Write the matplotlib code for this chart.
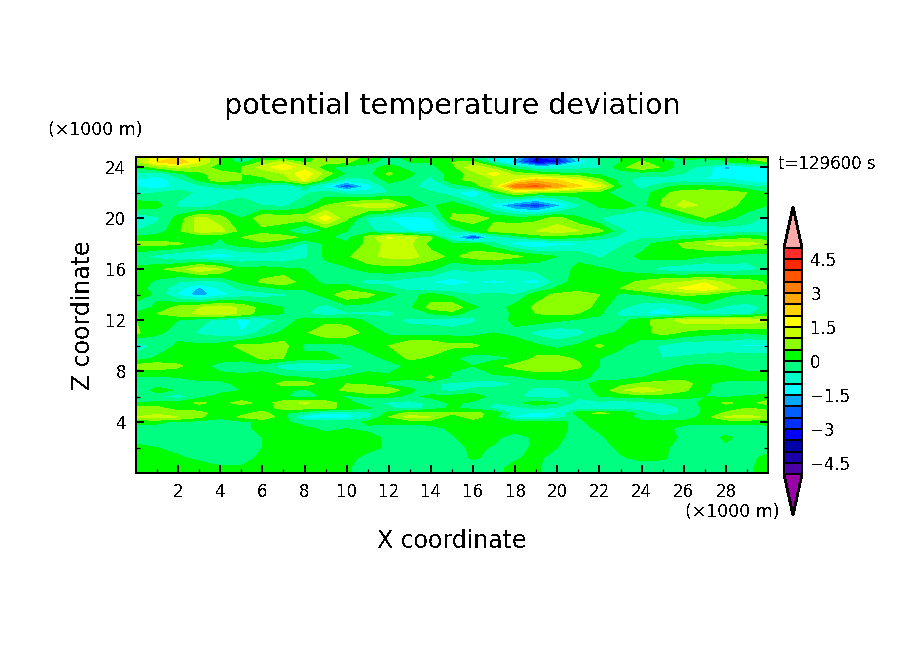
import numpy as np
import matplotlib
matplotlib.use('Agg')
import matplotlib.pyplot as plt

plt.rcParams['font.family'] = 'DejaVu Sans'
plt.rcParams['text.antialiased'] = False
plt.rcParams['lines.antialiased'] = False
plt.rcParams['patch.antialiased'] = False

# x in km, one column per km
x_km = list(range(0, 31))
# z in km, rows of theta_dev go top of the picture to bottom
z_km = [24.8, 24.4, 24, 23.5, 23, 22.5, 22, 21, 20, 19, 18.5, 18, 17, 16, 15, 14.5, 14, 13, 12.5, 12, 11, 10, 9,
        8.4, 7.5, 7, 6.5, 6, 5.5, 5.1, 4.7, 4.4, 4, 3.5, 2.8, 2, 1.2, 0.4, 0]

theta_dev = [
    [.9, 1.7, 2.0, 1.6, .3, -.4, .1, -.2, .3, .7, .9, .3, -.1, .1, .2, .5, -.3, -1.0, -1.2, -3.0, -2.6, -1.0, -.4, 0, .2, -.1, .1, .1, .2, .6, .8],
    [.8, 2.0, 2.4, 1.5, .5, -.2, .6, 1.2, .4, .7, .6, .1, -.2, 0, 0, .5, .6, -.6, -1.8, -3.6, -3.2, -1.4, -.5, 0, .6, .1, -.1, -.2, -.1, .3, .5],
    [.1, .7, 1.2, .8, .2, .5, 1.2, 1.9, 1.2, .1, -.2, -.2, .2, -.2, -.1, .3, 1.5, .6, -.3, -1.0, -.9, -.7, -.6, .3, 1.0, .4, -.4, -.6, -1.6, -1.3, -1.0],
    [-.7, -.8, -.1, .4, .7, .5, .6, 1.0, 1.9, .8, -.1, -.2, .6, .1, -.4, .2, .7, 1.8, .7, .4, .1, 0, -.1, -.3, -.3, -.2, -.5, -.8, -1.4, -1.0, -1.6],
    [-1.0, -1.3, -.7, .1, .9, .5, .4, .7, 1.6, .2, -.8, -.6, .2, -.1, -.7, .4, .6, 1.0, 1.5, 2.3, 2.0, 1.6, .6, -.2, -.8, -.8, -.8, -1.0, -.9, -1.2, -1.3],
    [-1.0, -1.4, -.8, -.6, -.4, -.3, -.7, -1.0, -.3, -1.2, -2.6, -1.3, -.2, -.3, -.9, -.4, .1, 1.2, 3.4, 3.6, 2.8, 2.1, 1.6, 0, -.7, -.2, .2, .1, 0, -.4, -.6],
    [-.7, -.5, -.3, -.6, -.8, -.7, -.9, -.6, -.6, -.3, -.7, -.8, -.5, -.2, -.4, -.8, -1.6, 0, 1.0, .6, .4, .3, .3, -.4, -.3, .4, .7, .8, .7, .5, 0],
    [.4, .2, -.6, -.9, -.4, -.2, -.5, -.6, -.2, .5, 1.0, 1.3, 1.3, .4, -.1, .3, -.2, -1.2, -2.2, -2.8, -1.7, -.6, .1, .4, -.2, .6, 1.2, .9, .7, .3, 0],
    [-1.0, -.6, .2, 1.2, .7, 0, .9, .8, .8, 1.8, .6, -.6, -1.0, -1.3, -1.0, .6, .8, .4, .2, .3, .7, .1, -.5, -1.0, -1.0, -.8, -.2, .5, .2, -.3, -.6],
    [-.5, -.3, .4, 1.2, 1.2, .3, .3, .1, -.7, .1, 0, -.3, -.9, -1.0, -1.3, -.5, .1, .7, .9, 1.0, 1.3, 1.0, .7, -.4, -.9, -1.0, -1.1, -1.2, -.9, -.7, -.7],
    [.2, .2, -.1, .1, 0, .5, .8, .7, .4, .1, -.2, .7, 1.6, 1.2, .6, -1.2, -2.9, -.9, -.4, .2, .2, .1, -.3, -.6, -.6, -.6, -.3, -.2, .1, .3, .1],
    [.6, .7, .6, .2, -.1, .3, .4, .1, -.6, .1, .1, .6, 1.2, 1.1, .3, .1, .2, -.4, -1.2, -1.7, -1.2, -1.1, -1.0, -.6, -.2, .2, .6, 1.0, 1.3, 1.2, .9],
    [-.3, -.7, -1.0, -1.1, -1.3, -1.0, -.9, -1.0, -.6, .1, .4, .9, 1.1, 1.2, .7, .4, .7, .9, .6, .3, 0, -.1, -.6, -.2, .1, .2, .3, 0, -.1, -.3, -.3],
    [.1, .4, .7, 1.4, 1.0, .1, .2, .1, 0, -.2, -.1, .2, .3, .2, .1, -.5, -.4, -.5, -.5, -.3, -.2, .1, .1, -.1, -.3, -.7, -.9, -1.0, -.8, -.7, -.4],
    [.3, -.1, -.5, -.7, -.6, .1, .6, .9, .2, -.1, -.2, -.7, -.6, -.8, -1.0, -1.2, -1.0, -1.1, -1.0, -1.2, -.3, .3, .2, .3, .6, .9, 1.0, 1.4, .9, .8, .4],
    [.2, -.2, -.8, -1.6, -.9, -.4, -.2, .1, .1, .1, .3, -.2, -.4, -.7, -.9, -.9, -.8, -.8, -.6, -.6, .1, .3, .2, .5, .9, 1.2, 1.6, 2.0, 1.2, .8, .5],
    [.3, -.1, -1.1, -1.8, -1.2, -.8, -.7, -.6, -.3, .2, .9, .7, .1, -.2, .2, -.2, -.5, -.4, -.5, .3, .6, .7, .5, -.1, 0, .3, .6, .5, .1, -.1, 0],
    [-.3, .1, .7, 1.0, 1.3, .9, .3, 0, -.3, -.7, -.2, -.3, -.4, -.1, .7, .9, .1, -.3, .2, .6, .7, .9, .2, -.4, -.8, -1.0, -.8, -.2, -.6, -.7, -.4],
    [.1, .5, .8, 1.1, 1.3, .9, .2, 0, -.4, -.8, -.6, -.6, -.6, -.3, 0, .3, -.4, -.3, .1, .5, .6, .5, .1, -.7, -1.0, -1.2, -.9, -.8, -.8, -.7, .1],
    [.5, .3, 0, -.3, -.7, -1.1, -.9, -.3, .2, .3, .3, -.1, -.4, -.6, -.7, -.9, -.6, -.2, .1, .3, .1, -.1, -.2, -.2, .3, .8, 1.2, 1.3, 1.4, 1.4, 1.1],
    [.6, .1, -.2, -.6, -.8, -1.0, -.3, .1, .4, .9, .8, .3, -.1, -.3, -.2, -.2, -.2, 0, -.1, -.7, -.9, -.7, -.2, .1, .3, .7, .4, .2, .1, 0, .2],
    [-.8, -.4, .1, .1, .2, .7, .6, .7, -.1, -.2, -.1, .2, .5, 1.0, .9, .6, .6, .3, .2, .1, -.2, .1, .6, .1, -.3, -.6, -.9, -.9, -.9, -1.1, -1.1],
    [-.3, .1, .2, .2, .1, .1, .6, .5, .1, .2, -.1, -.2, .1, .6, .4, .1, -.3, -.1, 0, .6, .7, .4, 0, -.2, -.4, -.5, -.4, -.3, -.2, -.1, -.2],
    [.7, .8, .6, .1, -.1, -.2, -.2, -.8, -1.0, -.9, -.7, -.2, -.2, .1, .1, .1, 0, .3, .7, .9, .9, .6, 0, -.2, -.3, -.2, 0, .1, 0, -.1, -.2],
    [-.1, -.1, 0, .2, .1, .1, .2, .1, 0, -.1, .1, .2, .1, .1, .6, -.1, 0, -.1, -.1, .1, .1, .1, -.1, -.2, 0, .2, .3, .2, .2, .1, .2],
    [-.4, -.3, -.3, -.2, -.1, .1, .1, .7, .8, .2, .5, .4, -.1, -.2, -.4, -.6, -.9, -.9, -.5, -.3, -.2, -.1, .1, .3, .6, .7, .8, .1, -.2, -.1, -.2],
    [-.7, .3, -.1, -.3, -.2, 0, .1, .1, -.1, .3, .6, .9, .9, .1, -.3, -.7, -.3, -.2, -.2, -.7, -.7, -.2, .1, .9, 1.4, 1.0, .6, .1, -.3, -.6, -.4],
    [-.1, -.4, -.8, -.2, .2, .1, .2, .1, -.3, .1, -.1, .1, .1, -.1, .1, .2, .3, -.2, -.4, -.7, -.7, -.4, 0, .1, .2, .2, .1, 0, -.1, .1, .2],
    [0, .1, .2, .6, .3, .7, .3, .7, 1.1, .7, .3, -.4, -.6, -.7, -.4, .1, -.1, -.5, -.2, .3, 0, -.7, -.7, -.8, -.7, -.5, -.2, .1, .6, .3, .7],
    [.7, .7, .1, .2, .1, .1, .2, .7, .7, .7, .3, .1, -.4, -.8, -.3, .1, -.2, -.6, -.7, -.4, -.6, -.8, -1.0, -.8, -.8, -.8, -.4, .1, .2, .5, .2],
    [.9, .9, .9, .7, .2, .3, .7, .1, -.4, -1.0, -1.0, -.7, .2, .7, .7, .6, .6, .4, -.8, -1.1, -1.0, .3, .6, .4, -.2, -.8, -.4, .1, .6, .7, .9],
    [1.0, 1.2, 1.0, .6, .1, .6, .9, .2, -1.2, -1.3, -1.2, -.7, .5, 1.2, 1.0, .1, .8, .1, -1.1, -1.3, -.8, 0, .2, .3, -.2, -.4, -.3, .2, 1.1, 1.2, .9],
    [.1, .1, -.1, -.2, -.2, -.1, .1, .1, -.2, -.3, -.3, .1, .1, .1, .2, .2, .2, .1, .2, .2, .1, -.1, .2, .1, .1, .1, .1, .1, .1, .1, .1],
    [-.2, -.2, -.2, -.2, -.2, -.1, .1, .2, .1, -.1, 0, -.1, -.2, -.2, -.2, .1, .2, .2, .2, .2, .1, -.1, .05, .2, .2, .1, -.1, -.2, -.2, -.2, -.1],
    [-.2, -.2, -.2, -.2, -.2, -.2, 0, .2, .1, .15, .2, .15, -.1, -.2, -.2, -.05, .2, .1, -.2, .1, .1, -.2, -.05, .15, .2, .1, -.05, -.15, .05, -.1, -.15],
    [.1, 0, -.1, -.2, -.2, -.2, 0, .2, .2, .2, .2, .1, -.05, -.1, -.2, -.2, .1, -.05, -.2, .1, 0, -.2, -.2, .1, .2, .1, -.2, -.15, -.05, -.05, -.15],
    [.15, .1, .05, -.1, -.2, -.2, .1, .2, .2, .2, .1, -.1, -.2, -.1, -.2, -.2, .05, -.1, -.05, .1, -.2, -.2, -.2, -.05, .1, .05, -.2, -.2, -.2, -.1, .1],
    [.2, .2, .2, .2, .05, .05, .2, .2, .2, .2, .05, -.2, -.2, -.2, -.2, -.2, -.2, -.1, .1, .05, -.2, -.2, -.2, -.2, -.2, -.2, -.2, -.2, -.2, -.1, .2],
    [.2, .2, .2, .2, .05, .05, .2, .2, .2, .2, .05, -.2, -.2, -.2, -.2, -.2, -.2, -.1, .1, .05, -.2, -.2, -.2, -.2, -.2, -.2, -.2, -.2, -.2, -.1, .2],
]

levels = np.arange(-5, 5.5, 0.5)
band_colors = ['#9a00a8', '#4b00a8', '#1a00a8', '#0000a8', '#0000ff', '#0030ff', '#0060ff', '#00a8ff',
               '#00ffff', '#00ffc8', '#00ff80', '#00ff00', '#8cff00', '#c8ff00', '#ffff00', '#ffd400',
               '#ffa800', '#ff7d00', '#ff5500', '#ff2800', '#ff2a2a', '#ffa8a8']
x_major = list(range(2, 30, 2))
x_minor = list(range(1, 30, 2))
z_major = [4, 8, 12, 16, 20, 24]
z_minor = [2, 6, 10, 14, 18, 22]
cbar_ticks = [-4.5, -3, -1.5, 0, 1.5, 3, 4.5]
cbar_labels = ['\u22124.5', '\u22123', '\u22121.5', '0', '1.5', '3', '4.5']

W, H = 904, 654
fig = plt.figure(figsize=(W/100, H/100), dpi=100)
ax = fig.add_axes([136/W, 1-473/H, 632/W, 316/H])

cs = ax.contourf(x_km, z_km[::-1], np.array(theta_dev)[::-1], levels=levels, colors=band_colors,
                 extend='both', antialiased=False)
ax.set_xlim(0, 30)
ax.set_ylim(0, 24.8)
ax.set_xticks(x_major)
ax.set_xticks(x_minor, minor=True)
ax.set_yticks(z_major)
ax.set_yticks(z_minor, minor=True)
ax.tick_params(which='major', direction='in', top=True, right=True, length=6, width=1.4, labelsize=12, pad=7)
ax.tick_params(which='minor', direction='in', top=True, right=True, length=3.2, width=0.9)
for s in ax.spines.values():
    s.set_linewidth(1.2)

fig.text(452/W, 1-106/H, 'potential temperature deviation', fontsize=20.5, ha='center', va='center')
fig.text(452/W, 1-541/H, 'X coordinate', fontsize=17, ha='center', va='center')
fig.text(83/W, 1-315/H, 'Z coordinate', fontsize=17, ha='center', va='center', rotation=90)
fig.text(95.5/W, 1-130/H, '(\u00d71000 m)', fontsize=12.5, ha='center', va='center')
fig.text(732.5/W, 1-512/H, '(\u00d71000 m)', fontsize=12.5, ha='center', va='center')
fig.text(827/W, 1-164/H, 't=129600 s', fontsize=12, ha='center', va='center')

cax = fig.add_axes([784/W, 1-515/H, 18/W, 308/H])
cb = fig.colorbar(cs, cax=cax, extend='both', extendfrac=0.18, drawedges=True)
cb.set_ticks(cbar_ticks)
cb.set_ticklabels(cbar_labels)
cb.ax.minorticks_off()
cb.ax.tick_params(length=0, labelsize=12, pad=6)
cb.outline.set_linewidth(1.3)
cb.dividers.set_linewidth(1.3)
cb.dividers.set_color('black')

fig.savefig('out.png', dpi=100)
